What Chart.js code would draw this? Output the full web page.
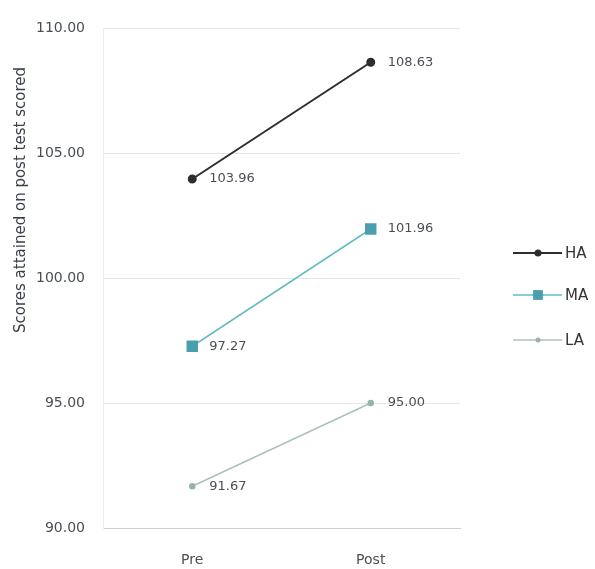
<!DOCTYPE html>
<html>
<head>
<meta charset="utf-8">
<script src="https://cdn.jsdelivr.net/npm/chart.js@4"></script>
<style>
  html, body { margin: 0; padding: 0; background: #fff; overflow: hidden; }
  #wrap { width: 595px; height: 569px; }
</style>
</head>
<body>
<div id="wrap"><canvas id="chart" width="595" height="569"></canvas></div>
<script>
// data
const categories = ['Pre', 'Post'];
const haScores = [103.96, 108.63];
const maScores = [97.27, 101.96];
const laScores = [91.67, 95.00];
const seriesNames = ['HA', 'MA', 'LA'];
const yTicks = [90, 95, 100, 105, 110];
const yTitle = 'Scores attained on post test scored';

const FONT = '"DejaVu Sans", Arial, sans-serif';

// draws the value next to each point
const valueLabels = {
  id: 'valueLabels',
  afterDatasetsDraw(chart) {
    const ctx = chart.ctx;
    ctx.save();
    ctx.font = '13px ' + FONT;
    ctx.fillStyle = '#4a4f55';
    ctx.textBaseline = 'middle';
    ctx.textAlign = 'left';
    chart.data.datasets.forEach((ds, i) => {
      chart.getDatasetMeta(i).data.forEach((pt, j) => {
        ctx.fillText(ds.data[j].toFixed(2), pt.x + 17, pt.y);
      });
    });
    ctx.restore();
  }
};

// legend with line + marker, and the rotated axis title
const sideBits = {
  id: 'sideBits',
  afterDraw(chart) {
    const ctx = chart.ctx;
    ctx.save();
    const rows = [253, 295, 340];
    chart.data.datasets.forEach((ds, i) => {
      const y = rows[i];
      ctx.strokeStyle = ds.borderColor;
      ctx.lineWidth = ds.borderWidth;
      ctx.beginPath();
      ctx.moveTo(513, y);
      ctx.lineTo(562, y);
      ctx.stroke();
      ctx.fillStyle = ds.pointBackgroundColor;
      if (ds.pointStyle === 'rect') {
        const s = ds.pointRadius * 1.4;
        ctx.fillRect(538 - s / 2, y - s / 2, s, s);
      } else {
        ctx.beginPath();
        ctx.arc(538, y, ds.pointRadius, 0, Math.PI * 2);
        ctx.fill();
      }
      ctx.fillStyle = '#333';
      ctx.font = '15px ' + FONT;
      ctx.textBaseline = 'middle';
      ctx.fillText(ds.label, 565, y + 1);
    });

    ctx.translate(21, 200);
    ctx.rotate(-Math.PI / 2);
    ctx.font = '15px ' + FONT;
    ctx.fillStyle = '#3a3f46';
    ctx.textAlign = 'center';
    ctx.textBaseline = 'middle';
    ctx.fillText(yTitle, 0, 0);
    ctx.restore();
  }
};

new Chart(document.getElementById('chart'), {
  type: 'line',
  data: {
    labels: categories,
    datasets: [
      {
        label: seriesNames[0], data: haScores,
        borderColor: '#2e2e2e', borderWidth: 2,
        pointStyle: 'circle', pointRadius: 3.5,
        pointBackgroundColor: '#2e2e2e', pointBorderColor: '#2e2e2e'
      },
      {
        label: seriesNames[1], data: maScores,
        borderColor: '#62bcc6', borderWidth: 1.5,
        pointStyle: 'rect', pointRadius: 7,
        pointBackgroundColor: '#4a9ead', pointBorderColor: '#4a9ead'
      },
      {
        label: seriesNames[2], data: laScores,
        borderColor: '#a9c2ba', borderWidth: 1.5,
        pointStyle: 'circle', pointRadius: 2.5,
        pointBackgroundColor: '#98b2a9', pointBorderColor: '#98b2a9'
      }
    ]
  },
  options: {
    responsive: false,
    animation: false,
    layout: { padding: { top: 28, right: 135, left: 0, bottom: 0 } },
    plugins: { legend: { display: false }, tooltip: { enabled: false } },
    scales: {
      x: {
        offset: true,
        grid: { display: false, drawTicks: false },
        border: { color: '#d0d0d0' },
        ticks: {
          padding: 24, color: '#4a4f55',
          font: { size: 14, family: FONT }
        },
        afterFit(scale) { scale.height = 41; }
      },
      y: {
        min: 90, max: 110,
        afterBuildTicks(scale) { scale.ticks = yTicks.map(v => ({ value: v })); },
        grid: { color: '#e6e6e6', drawTicks: false },
        border: { display: true, color: '#ececec' },
        ticks: {
          padding: 18, color: '#4a4f55',
          font: { size: 14, family: FONT },
          callback: v => Number(v).toFixed(2)
        },
        afterFit(scale) { scale.width = 103; }
      }
    }
  },
  plugins: [valueLabels, sideBits]
});
</script>
</body>
</html>
